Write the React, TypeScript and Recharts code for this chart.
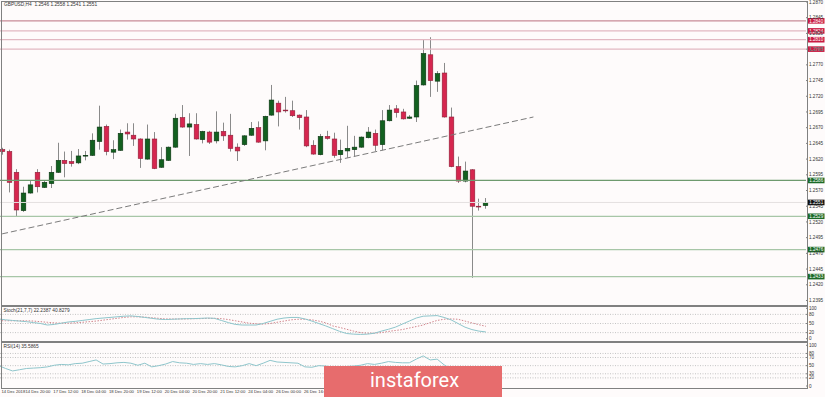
import React from "react";
import { ComposedChart, Bar, Line, XAxis, YAxis, ReferenceLine } from "recharts";

// 71 H4 bars plus empty chart shift on the right
const SLOTS = 117;

const opens = [
  1.2635, 1.2632, 1.2599, 1.2538, 1.2566, 1.2599, 1.2575, 1.2581, 1.2599, 1.2618,
  1.2616, 1.2614, 1.2625, 1.2626, 1.2648, 1.2672, 1.2631, 1.2634, 1.2663, 1.2658,
  1.2652, 1.262, 1.2652, 1.2607, 1.2618, 1.2639, 1.2686, 1.2671, 1.2675, 1.2651,
  1.2663, 1.2649, 1.2664, 1.2658, 1.2639, 1.2643, 1.2658, 1.267, 1.2649, 1.269,
  1.2709, 1.2698, 1.2697, 1.269, 1.2687, 1.2642, 1.2627, 1.2656, 1.2652, 1.2627,
  1.2633, 1.2635, 1.2639, 1.2654, 1.2661, 1.2643, 1.2681, 1.27, 1.2695, 1.2685,
  1.2687, 1.2738, 1.2786, 1.2744, 1.2757, 1.2687, 1.2608, 1.2585, 1.2603, 1.2545,
  1.2546,
];
const highs = [
  1.2638, 1.2635, 1.2604, 1.2576, 1.2586, 1.2604, 1.2585, 1.2609, 1.2646, 1.2632,
  1.2633, 1.2636, 1.2633, 1.2661, 1.2705, 1.2675, 1.265, 1.2667, 1.2677, 1.2677,
  1.2653, 1.2675, 1.2663, 1.2639, 1.264, 1.2692, 1.2706, 1.2693, 1.2693, 1.2665,
  1.2665, 1.2696, 1.2678, 1.2692, 1.2645, 1.2658, 1.2679, 1.268, 1.2689, 1.2738,
  1.2713, 1.2719, 1.2713, 1.2691, 1.2698, 1.265, 1.266, 1.2665, 1.2662, 1.2651,
  1.2673, 1.2657, 1.2656, 1.2671, 1.2667, 1.2698, 1.2706, 1.2706, 1.27, 1.269,
  1.2745, 1.281, 1.2814, 1.276, 1.2773, 1.2702, 1.2624, 1.2616, 1.2604, 1.2557,
  1.2558,
];
const lows = [
  1.2627, 1.2567, 1.2528, 1.2536, 1.2565, 1.2567, 1.2574, 1.2574, 1.2598, 1.2591,
  1.2608, 1.2612, 1.2618, 1.2625, 1.2635, 1.2626, 1.262, 1.2633, 1.2651, 1.2641,
  1.2606, 1.2619, 1.2604, 1.2606, 1.2617, 1.2638, 1.267, 1.2625, 1.2651, 1.2645,
  1.2644, 1.2645, 1.2649, 1.2632, 1.2617, 1.2641, 1.2657, 1.2646, 1.2634, 1.2689,
  1.2672, 1.2694, 1.2687, 1.2667, 1.2639, 1.2627, 1.2626, 1.2651, 1.2622, 1.2614,
  1.2622, 1.2624, 1.2638, 1.2653, 1.2633, 1.2634, 1.268, 1.2686, 1.2683, 1.2684,
  1.2679, 1.2737, 1.2719, 1.2727, 1.2686, 1.2607, 1.2582, 1.2583, 1.2431, 1.2538,
  1.2541,
];
const closes = [
  1.2632, 1.2583, 1.2539, 1.2566, 1.2579, 1.2576, 1.2583, 1.2599, 1.2618, 1.2613,
  1.2613, 1.2625, 1.2626, 1.265, 1.2671, 1.2632, 1.2635, 1.2661, 1.266, 1.2652,
  1.2621, 1.2652, 1.2605, 1.2619, 1.2639, 1.2685, 1.2671, 1.2676, 1.2652, 1.2664,
  1.2647, 1.2663, 1.2657, 1.2637, 1.2633, 1.2657, 1.2669, 1.2647, 1.2688, 1.2714,
  1.2695, 1.2697, 1.2689, 1.2686, 1.2641, 1.2628, 1.2656, 1.2653, 1.2626, 1.2634,
  1.2637, 1.2639, 1.2655, 1.2663, 1.2642, 1.2681, 1.2698, 1.2694, 1.2684, 1.2687,
  1.2737, 1.2788, 1.2745, 1.2756, 1.2687, 1.2608, 1.2585, 1.2601, 1.2545, 1.2544,
  1.2551,
];

const stochMain = [
  65, 62, 60, 58, 56, 53, 50, 45, 47, 51, 55, 57, 60, 63, 66, 68, 70, 72, 74, 75,
  73, 70, 67, 64, 63, 64, 65, 66, 66, 67, 68, 67, 60, 53, 47, 45, 45, 45, 50, 57,
  64, 68, 70, 70, 65, 58, 50, 42, 33, 24, 17, 15, 14, 15, 18, 25, 31, 38, 48, 58,
  68, 74, 75, 76, 70, 62, 50, 38, 30, 25, 22.24,
];
const stochSignal = [
  59, 59, 59, 59, 59, 58, 56, 54, 52, 51, 51, 52, 54, 56, 58, 61, 64, 67, 70, 72,
  72, 71, 69, 67, 65, 65, 65, 65, 66, 66, 67, 67, 66, 63, 59, 55, 51, 49, 48, 50,
  54, 58, 62, 64, 64, 62, 58, 52, 42, 37, 31, 25, 20, 18, 18, 20, 24, 27, 30, 35,
  40, 45, 53, 60, 64, 65, 64, 58, 52, 46, 40.83,
];
const rsi = [
  50, 43, 37, 40, 43, 44, 45, 47, 51, 53, 52, 55, 56, 60, 64, 54, 55, 57, 58, 56,
  51, 56, 47, 50, 54, 60, 57, 56, 53, 55, 53, 55, 52, 48, 47, 50, 55, 50, 56, 63,
  59, 58, 57, 56, 47, 46, 50, 49, 46, 47, 48, 49, 51, 55, 53, 56, 60, 58, 57, 57,
  66, 74, 64, 66, 52, 42, 38, 41, 34, 33, 35.59,
];

const priceTicks = [
  1.287, 1.2845, 1.282, 1.2795, 1.277, 1.2745, 1.272, 1.2695, 1.267, 1.2645,
  1.262, 1.2595, 1.257, 1.2545, 1.252, 1.2495, 1.247, 1.2445, 1.242, 1.2395,
];
const resistances = [1.284, 1.2824, 1.281, 1.2795];
const supports = [1.2586, 1.2529, 1.2476, 1.2433];
const lastPrice = 1.2551;
const trendStart = { i: 0, p: 1.2501 };
const trendEnd = { i: 77, p: 1.2687 };

// one label every 4 bars; later ones sit under the watermark
const dateLabels = [
  "14 Dec 2018", "14 Dec 20:00", "17 Dec 12:00", "18 Dec 04:00", "18 Dec 20:00",
  "19 Dec 12:00", "20 Dec 04:00", "20 Dec 20:00", "21 Dec 12:00", "24 Dec 04:00",
  "26 Dec 00:00", "26 Dec 16:00",
];
const stochTicks = [100, 80, 50, 20, 0];
const stochLevels = [80, 50, 20];
const rsiTicks = [100, 80, 70, 50, 30, 20, 0];
const rsiLevels = [80, 70, 50, 30, 20];

const data = Array.from({ length: SLOTS }, (_, i) => {
  const row: any = { i };
  if (i < opens.length) {
    row.open = opens[i];
    row.high = highs[i];
    row.low = lows[i];
    row.close = closes[i];
    row.range = [lows[i], highs[i]];
    row.k = stochMain[i];
    row.d = stochSignal[i];
    row.rsi = rsi[i];
  }
  if (i === trendStart.i) row.trend = trendStart.p;
  if (i === trendEnd.i) row.trend = trendEnd.p;
  return row;
});

const FONT = "'Liberation Sans', Arial, sans-serif";
const BG = "#fefbfb";
const FRAME = "#808080";

const Candle = (props: any) => {
  const { x, y, width, height, payload } = props;
  if (!payload || payload.open == null || !height) return null;
  const { open, close, high, low } = payload;
  const k = height / (high - low);
  const cx = Math.round(x + width / 2) + 0.5;
  const yo = y + (high - open) * k;
  const yc = y + (high - close) * k;
  const up = close >= open;
  const top = Math.min(yo, yc);
  const h = Math.max(Math.abs(yc - yo), 0.8);
  return (
    <g>
      <line x1={cx} x2={cx} y1={y} y2={y + height} stroke="#8a8a8a" strokeWidth={1} />
      <rect
        x={cx - 2.3}
        y={top}
        width={4.6}
        height={h}
        fill={up ? "#12601f" : "#d6264f"}
        stroke={up ? "#0a3311" : "#8e1f38"}
        strokeWidth={0.6}
      />
    </g>
  );
};

const Tag = (props: any) => {
  const { viewBox, text, bg } = props;
  if (!viewBox) return null;
  const x = viewBox.x + viewBox.width + 2;
  const y = viewBox.y;
  return (
    <g>
      <rect x={x} y={y - 2.8} width={16.5} height={5.6} fill={bg} />
      <text x={x + 8.2} y={y + 1.7} textAnchor="middle" fontSize={4.6} fill="#fff" fontFamily={FONT}>
        {text}
      </text>
    </g>
  );
};

const DateTick = (props: any) => {
  const { x, y, payload } = props;
  return (
    <text x={Math.max(x - 1, 1.5)} y={y + 4.3} fontSize={4.2} fill="#333" fontFamily={FONT} textAnchor="start">
      {dateLabels[payload.value / 4]}
    </text>
  );
};

const tickStyle = { fontSize: 4.6, fill: "#333", fontFamily: FONT };

const abs = (left: number, top: number): React.CSSProperties => ({ position: "absolute", left, top });

export default function App() {
  return (
    <div style={{ position: "absolute", left: 0, top: 0, width: 825, height: 397, background: BG, overflow: "hidden" }}>
      {/* main price panel */}
      <ComposedChart
        width={825}
        height={306}
        data={data}
        margin={{ top: 2, right: 0, bottom: 2, left: -1.34 }}
        style={abs(0, 0)}
      >
        <XAxis dataKey="i" hide padding={{ left: 0, right: 0 }} />
        <YAxis
          orientation="right"
          width={19}
          domain={[1.23894, 1.287]}
          allowDataOverflow
          ticks={priceTicks}
          interval={0}
          tickFormatter={(v: number) => v.toFixed(4)}
          tick={tickStyle}
          tickSize={2}
          tickMargin={1}
          axisLine={false}
          tickLine={{ stroke: FRAME }}
          textAnchor="start"
        />
        {resistances.map((p, n) => (
          <ReferenceLine key={"r" + p} y={p} stroke={n === 0 ? "#c78b97" : "#e2b8c2"} strokeWidth={1.2} />
        ))}
        {supports.map((p, n) => (
          <ReferenceLine key={"s" + p} y={p} stroke={n === 0 ? "#6e9a6e" : "#a7c6a7"} strokeWidth={1.2} />
        ))}
        <ReferenceLine y={lastPrice} stroke="#e4e0e0" strokeWidth={1} />
        <Line
          dataKey="trend"
          connectNulls
          stroke="#7b7b7b"
          strokeWidth={1}
          strokeDasharray="6 3"
          dot={false}
          isAnimationActive={false}
        />
        <Bar dataKey="range" shape={<Candle />} isAnimationActive={false} />
        {resistances.map((p) => (
          <ReferenceLine key={"rt" + p} y={p} stroke="none" label={<Tag text={p.toFixed(4)} bg="#c91a42" />} />
        ))}
        {supports.map((p) => (
          <ReferenceLine key={"st" + p} y={p} stroke="none" label={<Tag text={p.toFixed(4)} bg="#1c6a27" />} />
        ))}
        <ReferenceLine y={lastPrice} stroke="none" label={<Tag text={lastPrice.toFixed(4)} bg="#111" />} />
      </ComposedChart>

      {/* stochastic panel */}
      <ComposedChart
        width={825}
        height={36}
        data={data}
        margin={{ top: 0, right: 0, bottom: 0, left: -1.34 }}
        style={abs(0, 306)}
      >
        <XAxis dataKey="i" hide padding={{ left: 0, right: 0 }} />
        <YAxis
          orientation="right"
          width={19}
          domain={[-10.9, 107.6]}
          allowDataOverflow
          ticks={stochTicks}
          interval={0}
          tick={tickStyle}
          tickSize={2}
          tickMargin={1}
          axisLine={false}
          tickLine={{ stroke: FRAME }}
          textAnchor="start"
        />
        {stochLevels.map((v) => (
          <ReferenceLine key={v} y={v} stroke="#c4c4c4" strokeDasharray="1 1.5" />
        ))}
        <Line dataKey="d" stroke="#d0858c" strokeWidth={1} strokeDasharray="1.5 1.5" dot={false} isAnimationActive={false} />
        <Line dataKey="k" stroke="#8ec5cb" strokeWidth={1} dot={false} isAnimationActive={false} />
      </ComposedChart>

      {/* RSI panel with the time axis */}
      <ComposedChart
        width={825}
        height={55}
        data={data}
        margin={{ top: 0, right: 0, bottom: 0, left: -1.34 }}
        style={abs(0, 342)}
      >
        <XAxis
          dataKey="i"
          height={8.7}
          padding={{ left: 0, right: 0 }}
          ticks={dateLabels.map((_, n) => n * 4)}
          interval={0}
          tick={<DateTick />}
          tickSize={0}
          tickMargin={0}
          axisLine={false}
          tickLine={false}
        />
        <YAxis
          orientation="right"
          width={19}
          domain={[-5.65, 108.1]}
          allowDataOverflow
          ticks={rsiTicks}
          interval={0}
          tick={tickStyle}
          tickSize={2}
          tickMargin={1}
          axisLine={false}
          tickLine={{ stroke: FRAME }}
          textAnchor="start"
        />
        {rsiLevels.map((v) => (
          <ReferenceLine key={v} y={v} stroke="#c4c4c4" strokeDasharray="1 1.5" />
        ))}
        <Line dataKey="rsi" stroke="#8ec5cb" strokeWidth={1} dot={false} isAnimationActive={false} />
      </ComposedChart>

      {/* panel frames */}
      <div style={{ ...abs(1, 1), width: 807, height: 305, border: `1px solid ${FRAME}`, boxSizing: "border-box" }} />
      <div style={{ ...abs(1, 306), width: 807, height: 36, border: `1px solid ${FRAME}`, boxSizing: "border-box" }} />
      <div style={{ ...abs(1, 342), width: 807, height: 47, border: `1px solid ${FRAME}`, boxSizing: "border-box" }} />

      {/* captions */}
      <div style={{ ...abs(4, 2), fontSize: 4.8, color: "#333", fontFamily: FONT, whiteSpace: "pre" }}>
        {"GBPUSD,H4  1.2546 1.2558 1.2541 1.2551"}
      </div>
      <div style={{ ...abs(3.5, 307.5), fontSize: 4.8, color: "#333", fontFamily: FONT }}>
        Stoch(21,7,7) 22.2387 40.8279
      </div>
      <div style={{ ...abs(3.5, 344), fontSize: 4.8, color: "#333", fontFamily: FONT }}>
        RSI(14) 35.5865
      </div>

      {/* watermark */}
      <div style={{ ...abs(324, 366), width: 178, height: 31, background: "#e76c6d" }}>
        <span
          style={{
            position: "absolute",
            left: 46,
            top: 2,
            fontSize: 20,
            lineHeight: "24px",
            color: "#fff",
            fontFamily: "Roboto, sans-serif",
          }}
        >
          instaforex
        </span>
      </div>
    </div>
  );
}
